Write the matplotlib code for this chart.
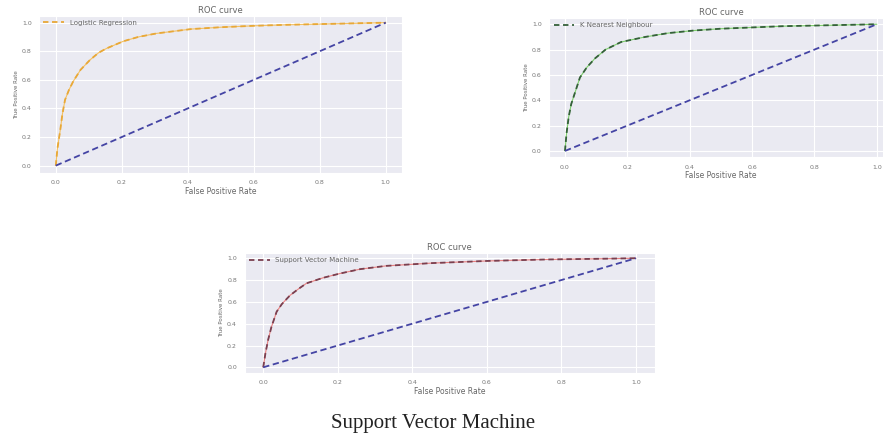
import numpy as np
import matplotlib
matplotlib.use('Agg')
import matplotlib.pyplot as plt
import seaborn as sns

sns.set_style('darkgrid')
plt.rcParams['font.family'] = ['DejaVu Sans']

# ROC points
lr_fpr = [0, 0.005, 0.013, 0.02, 0.028, 0.04, 0.053, 0.075, 0.104, 0.13, 0.154, 0.205, 0.25, 0.306, 0.41, 0.5, 0.6, 0.7, 0.8, 0.9, 1.0]
lr_tpr = [0, 0.12, 0.24, 0.36, 0.46, 0.53, 0.59, 0.67, 0.74, 0.79, 0.82, 0.87, 0.9, 0.925, 0.955, 0.968, 0.978, 0.985, 0.99, 0.995, 1.0]

knn_fpr = [0, 0.005, 0.012, 0.02, 0.032, 0.048, 0.07, 0.096, 0.13, 0.18, 0.257, 0.33, 0.41, 0.5, 0.6, 0.7, 0.8, 0.9, 1.0]
knn_tpr = [0, 0.14, 0.27, 0.37, 0.46, 0.58, 0.66, 0.73, 0.8, 0.86, 0.9, 0.93, 0.95, 0.965, 0.975, 0.985, 0.99, 0.995, 1.0]

svm_fpr = [0, 0.006, 0.013, 0.022, 0.036, 0.05, 0.072, 0.095, 0.116, 0.16, 0.206, 0.26, 0.33, 0.45, 0.6, 0.75, 0.9, 1.0]
svm_tpr = [0, 0.13, 0.25, 0.37, 0.51, 0.58, 0.66, 0.72, 0.77, 0.82, 0.86, 0.9, 0.93, 0.955, 0.975, 0.988, 0.995, 1.0]

chance = [0, 1]
ticks = [0.0, 0.2, 0.4, 0.6, 0.8, 1.0]
tick_labels = ['0.0', '0.2', '0.4', '0.6', '0.8', '1.0']

fig = plt.figure(figsize=(8.83, 4.43), dpi=100)
fig.patch.set_facecolor('white')


def roc_panel(rect, fpr, tpr, label, light, dark):
    ax = fig.add_axes(rect)
    ax.plot(fpr, tpr, color=light, lw=0.8)
    ax.plot(fpr, tpr, linestyle='--', dashes=(3, 2), color=dark, lw=1.3, label=label)
    ax.plot(chance, chance, linestyle='--', dashes=(3.5, 2), color='#4444a4', lw=1.3)
    ax.set_xticks(ticks)
    ax.set_xticklabels(tick_labels)
    ax.set_yticks(ticks)
    ax.set_yticklabels(tick_labels)
    ax.tick_params(labelsize=4.5, colors='#777777', pad=2)
    ax.set_title('ROC curve', fontsize=6, color='#666666', pad=2)
    ax.set_xlabel('False Positive Rate', fontsize=5.5, color='#666666', labelpad=1)
    ax.set_ylabel('True Positive Rate', fontsize=4, color='#666666', labelpad=2)
    leg = ax.legend(loc='upper left', fontsize=5, frameon=False,
                    borderaxespad=0.2, handlelength=3)
    for t in leg.get_texts():
        t.set_color('#666666')
    return ax


roc_panel([0.0445, 0.610, 0.411, 0.355], lr_fpr, lr_tpr,
          'Logistic Regression', '#f5c060', '#e8a838')
roc_panel([0.6222, 0.645, 0.3884, 0.3145], knn_fpr, knn_tpr,
          'K Nearest Neighbour', '#7ccf6a', '#35603a')
roc_panel([0.277, 0.1585, 0.4643, 0.2709], svm_fpr, svm_tpr,
          'Support Vector Machine', '#e88080', '#7a4050')

fig.text(0.49, 0.045, 'Support Vector Machine', ha='center', va='center',
         fontsize=15, family=['Liberation Serif'], color='#222222')

fig.savefig('out.png', dpi=100)
